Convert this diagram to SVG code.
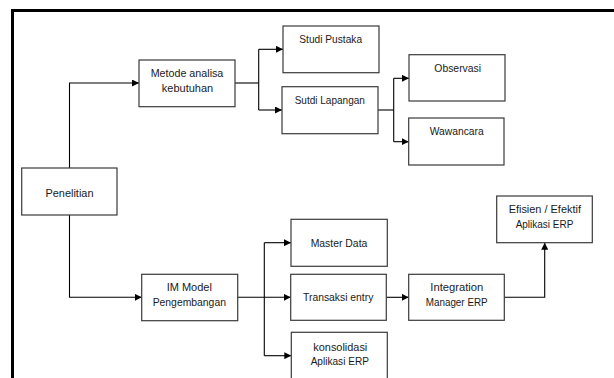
<svg xmlns="http://www.w3.org/2000/svg" width="614" height="378" viewBox="0 0 614 378">
<style>
.box{fill:#fff;stroke:#3a3a3a;stroke-width:1.2}
.t{font-family:"Liberation Sans",Arial,sans-serif;font-size:10.5px;fill:#1a1a1a;text-anchor:middle}
.c{fill:none;stroke:#000;stroke-width:1.1}
.frame{fill:none;stroke:#000;stroke-width:3}
</style>
<defs>
<marker id="ah" markerUnits="userSpaceOnUse" markerWidth="7" markerHeight="7" refX="7" refY="3.5" orient="auto">
<path d="M0,0 L7,3.5 L0,7 z" fill="#000"/>
</marker>
</defs>
<rect width="614" height="378" fill="#fff"/>
<g id="frame">
<path class="frame" d="M12.5,380 V10.5 H616"/>
</g>
<g id="connectors">
<path class="c" d="M69.5,168 V83 H139" marker-end="url(#ah)"/>
<path class="c" d="M235,83 H258.7"/>
<path class="c" d="M258.7,49.3 V110"/>
<path class="c" d="M258.7,49.3 H283" marker-end="url(#ah)"/>
<path class="c" d="M258.7,110 H282" marker-end="url(#ah)"/>
<path class="c" d="M378,110 H393.7"/>
<path class="c" d="M393.7,78.3 V141.7"/>
<path class="c" d="M393.7,78.3 H409" marker-end="url(#ah)"/>
<path class="c" d="M393.7,141.7 H408.7" marker-end="url(#ah)"/>
<path class="c" d="M69.5,215 V297.3 H141.7" marker-end="url(#ah)"/>
<path class="c" d="M237.7,297.3 H290.7" marker-end="url(#ah)"/>
<path class="c" d="M264.3,242.7 V355.7"/>
<path class="c" d="M264.3,242.7 H291" marker-end="url(#ah)"/>
<path class="c" d="M264.3,355.7 H291.3" marker-end="url(#ah)"/>
<path class="c" d="M386.3,297.3 H408.7" marker-end="url(#ah)"/>
<path class="c" d="M504.3,297.3 H544.7 V242.7" marker-end="url(#ah)"/>
</g>
<g id="penelitian">
<rect class="box" x="21.7" y="168" width="95.3" height="47"/>
<text class="t" x="69.5" y="196.5" textLength="48" lengthAdjust="spacingAndGlyphs">Penelitian</text>
</g>
<g id="metode">
<rect class="box" x="139" y="60" width="96" height="46.7"/>
<text class="t" x="187" y="77" textLength="72.7" lengthAdjust="spacingAndGlyphs">Metode analisa</text>
<text class="t" x="187.5" y="92" textLength="51.3" lengthAdjust="spacingAndGlyphs">kebutuhan</text>
</g>
<g id="studi-pustaka">
<rect class="box" x="283" y="26" width="96" height="46.7"/>
<text class="t" x="330.7" y="43" textLength="62.7" lengthAdjust="spacingAndGlyphs">Studi Pustaka</text>
</g>
<g id="sutdi-lapangan">
<rect class="box" x="282" y="86.7" width="96" height="47"/>
<text class="t" x="329.8" y="103.7" textLength="70.3" lengthAdjust="spacingAndGlyphs">Sutdi Lapangan</text>
</g>
<g id="observasi">
<rect class="box" x="409" y="54.7" width="96" height="46.3"/>
<text class="t" x="457.7" y="71.7" textLength="46.7" lengthAdjust="spacingAndGlyphs">Observasi</text>
</g>
<g id="wawancara">
<rect class="box" x="408.7" y="118" width="95.3" height="47"/>
<text class="t" x="456.7" y="135" textLength="54" lengthAdjust="spacingAndGlyphs">Wawancara</text>
</g>
<g id="im-model">
<rect class="box" x="141.7" y="274.3" width="96" height="46.4"/>
<text class="t" x="189.3" y="291" textLength="45.3" lengthAdjust="spacingAndGlyphs">IM Model</text>
<text class="t" x="189.3" y="305.5" textLength="73.3" lengthAdjust="spacingAndGlyphs">Pengembangan</text>
</g>
<g id="master-data">
<rect class="box" x="291" y="219.3" width="96.3" height="47"/>
<text class="t" x="339" y="247.3" textLength="56.7" lengthAdjust="spacingAndGlyphs">Master Data</text>
</g>
<g id="transaksi-entry">
<rect class="box" x="290.7" y="274.3" width="95.6" height="46"/>
<text class="t" x="338.2" y="301" textLength="70.3" lengthAdjust="spacingAndGlyphs">Transaksi entry</text>
</g>
<g id="konsolidasi">
<rect class="box" x="291.3" y="332.3" width="96" height="60"/>
<text class="t" x="340.3" y="350.7" textLength="54" lengthAdjust="spacingAndGlyphs">konsolidasi</text>
<text class="t" x="339.8" y="365" textLength="58.3" lengthAdjust="spacingAndGlyphs">Aplikasi ERP</text>
</g>
<g id="integration">
<rect class="box" x="408.7" y="274.3" width="95.6" height="46"/>
<text class="t" x="456.8" y="290.5" textLength="53" lengthAdjust="spacingAndGlyphs">Integration</text>
<text class="t" x="456.7" y="305.5" textLength="62" lengthAdjust="spacingAndGlyphs">Manager ERP</text>
</g>
<g id="efisien">
<rect class="box" x="496.7" y="196" width="95.6" height="46.7"/>
<text class="t" x="544.8" y="213.3" textLength="72.3" lengthAdjust="spacingAndGlyphs">Efisien / Efektif</text>
<text class="t" x="544.5" y="227.8" textLength="57.7" lengthAdjust="spacingAndGlyphs">Aplikasi ERP</text>
</g>
</svg>
